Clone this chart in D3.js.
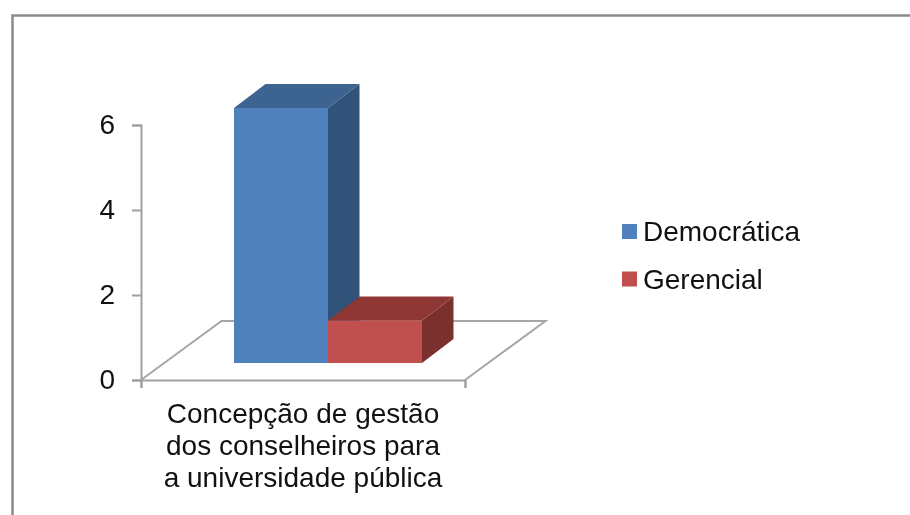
<!DOCTYPE html>
<html>
<head>
<meta charset="utf-8">
<script src="https://cdn.jsdelivr.net/npm/d3@7"></script>
<style>
html, body { margin: 0; padding: 0; background: #fff; }
svg { display: block; filter: blur(0.45px); }
text { font-family: "Liberation Sans", Arial, sans-serif; fill: #111; }
</style>
</head>
<body>
<div id="chart-area"></div>
<script>
// Chart values
var categories = ["Concepção de gestão dos conselheiros para a universidade pública"];
var categoryLines = ["Concepção de gestão", "dos conselheiros para", "a universidade pública"];
var seriesNames = ["Democrática", "Gerencial"];
var seriesValues = [6, 1];
var yTicks = [0, 2, 4, 6];

// Colours: front, top, side of each bar
var faceColors = [
	{front: "#4f81bd", top: "#3d6390", side: "#325379"},
	{front: "#c0504d", top: "#8e3735", side: "#7b302e"}
];

var fontSize = 28;

var svg = d3.select("#chart-area").append("svg")
	.attr("width", 910)
	.attr("height", 515);

// Frame of the chart
svg.append("path")
	.attr("d", "M12.5,530V15.5H925")
	.attr("fill", "none")
	.attr("stroke", "#8a8a8a")
	.attr("stroke-width", 2.5);

// Scales
var plot = {left: 141, right: 465, bottom: 380, top: 125};
var yScale = d3.scaleLinear().domain([0, 6]).range([plot.bottom, plot.top]);
var xScale = d3.scaleLinear().domain([0, 1]).range([plot.left, plot.right]);

// Offsets of the oblique projection
var floorDepth = {dx: 80.5, dy: -59};
var barShift = {dx: 25, dy: -17};
var barDepth = {dx: 31.5, dy: -24};
var barWidth = 94;

var seriesScale = d3.scaleBand()
	.domain(seriesNames)
	.range([
		xScale(0.5) + barShift.dx - barWidth,
		xScale(0.5) + barShift.dx + barWidth
	]);

// Floor
var floorPoints = [
	[xScale(0), yScale(0)],
	[xScale(0) + floorDepth.dx, yScale(0) + floorDepth.dy],
	[xScale(1) + floorDepth.dx, yScale(0) + floorDepth.dy],
	[xScale(1), yScale(0)]
];
svg.append("path")
	.attr("d", d3.line()(floorPoints))
	.attr("fill", "none")
	.attr("stroke", "#a6a6a6")
	.attr("stroke-width", 2);

// Axes
var yAxis = d3.axisLeft(yScale).tickValues(yTicks).tickSize(9).tickPadding(17).tickFormat(d3.format("d"));
var xAxis = d3.axisBottom(xScale).tickValues([0, 1]).tickSize(8).tickFormat("");

var yAxisGroup = svg.append("g")
	.attr("class", "axis y-axis")
	.attr("transform", "translate(" + plot.left + ",0)")
	.call(yAxis);

var xAxisGroup = svg.append("g")
	.attr("class", "axis x-axis")
	.attr("transform", "translate(0," + plot.bottom + ")")
	.call(xAxis);

svg.selectAll(".axis path, .axis line")
	.attr("stroke", "#a0a0a0")
	.attr("stroke-width", 2);
yAxisGroup.selectAll("text")
	.attr("font-size", fontSize)
	.style("font-family", "Liberation Sans");

// Bars
seriesNames.forEach(function(name, i) {
	var x0 = seriesScale(name);
	var x1 = x0 + seriesScale.bandwidth();
	var y0 = yScale(0) + barShift.dy;
	var y1 = yScale(seriesValues[i]) + barShift.dy;
	var g = svg.append("g").attr("class", "bar");

	g.append("path")
		.attr("d", d3.line()([[x1, y0], [x1 + barDepth.dx, y0 + barDepth.dy], [x1 + barDepth.dx, y1 + barDepth.dy], [x1, y1]]))
		.attr("fill", faceColors[i].side);
	g.append("path")
		.attr("d", d3.line()([[x0, y1], [x0 + barDepth.dx, y1 + barDepth.dy], [x1 + barDepth.dx, y1 + barDepth.dy], [x1, y1]]))
		.attr("fill", faceColors[i].top);
	g.append("rect")
		.attr("x", x0)
		.attr("y", y1)
		.attr("width", x1 - x0)
		.attr("height", y0 - y1)
		.attr("fill", faceColors[i].front);
});

// Category label
svg.append("text")
	.attr("class", "category-label")
	.attr("text-anchor", "middle")
	.attr("font-size", fontSize)
	.selectAll("tspan")
	.data(categoryLines)
	.enter()
	.append("tspan")
	.attr("x", 303)
	.attr("y", function(d, i) { return 423 + i * 32; })
	.text(function(d) { return d; });

// Legend
var legend = svg.selectAll(".legend")
	.data(seriesNames)
	.enter()
	.append("g")
	.attr("class", "legend")
	.attr("transform", function(d, i) { return "translate(622," + (224 + i * 47.5) + ")"; });

legend.append("rect")
	.attr("width", 15)
	.attr("height", 15)
	.attr("fill", function(d, i) { return faceColors[i].front; });

legend.append("text")
	.attr("x", 21)
	.attr("y", 17)
	.attr("font-size", fontSize)
	.text(function(d) { return d; });
</script>
</body>
</html>
